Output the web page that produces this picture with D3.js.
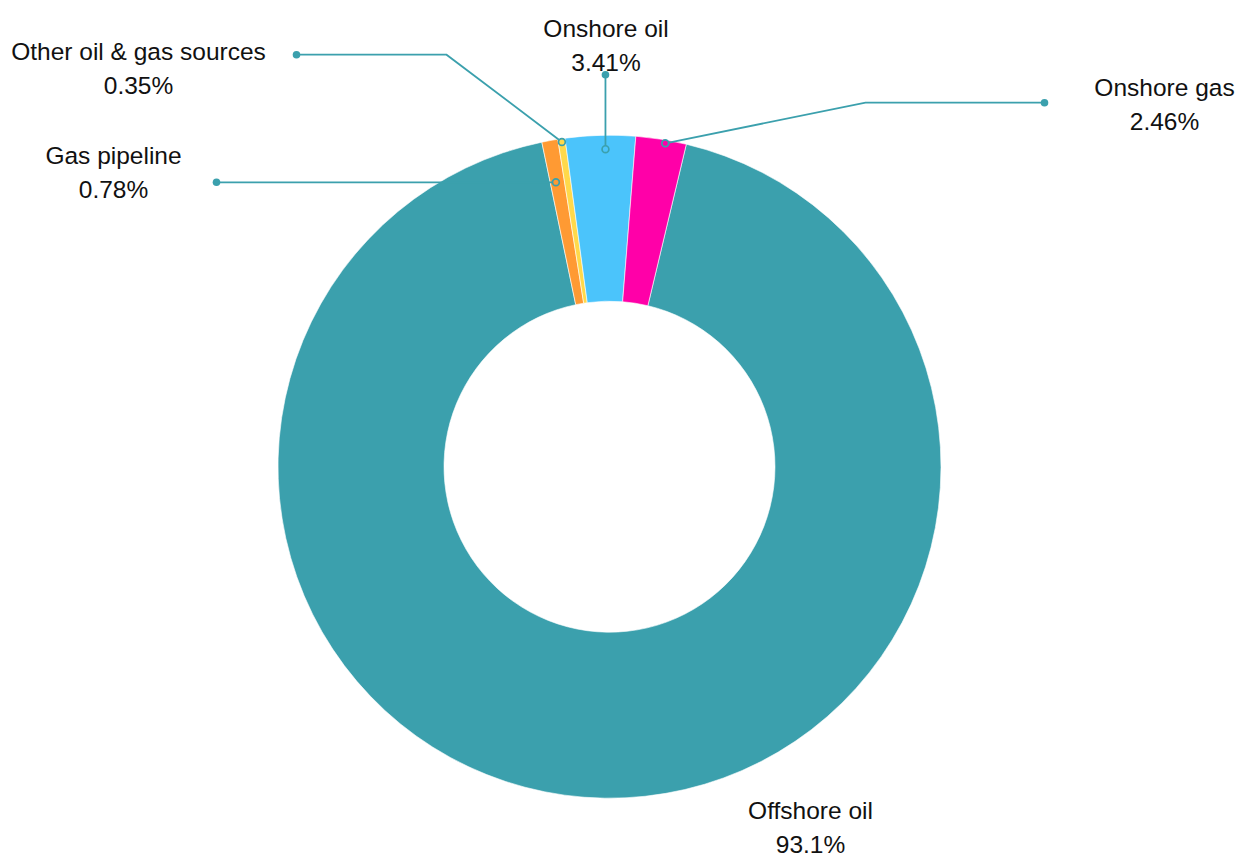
<!DOCTYPE html>
<html>
<head>
<meta charset="utf-8">
<script src="https://cdn.jsdelivr.net/npm/d3@7/dist/d3.min.js"></script>
<style>
  html, body { margin: 0; padding: 0; background: #fff; }
  svg { display: block; }
  text { font-family: "Liberation Sans", Arial, sans-serif; fill: #111; }
</style>
</head>
<body>
<svg id="chart" width="1239" height="858"></svg>
<script>
// Share of emissions by source (percent)
const categories = ["Offshore oil", "Gas pipeline", "Other oil & gas sources", "Onshore oil", "Onshore gas"];
const shares = [93.1, 0.78, 0.35, 3.41, 2.46];
const colors = ["#3ba0ad", "#ff9a33", "#ffd94a", "#4bc4fb", "#ff00a8"];

// Label placement: anchor radius (fraction of outer radius), angle nudge (deg),
// elbow and end offsets from centre, text centre/baseline
const labelLayout = {
  "Offshore oil":            { line: false, tx: 201,  ty: 352 },
  "Gas pipeline":            { line: true, anchorR: 0.873, da: -0.3, elbowX: -170, elbowY: null, endX: -393, tx: -496, ty: -303 },
  "Other oil & gas sources": { line: true, anchorR: 0.99,  da: 0,    elbowX: -163, elbowY: -412, endX: -313, tx: -471, ty: -407 },
  "Onshore oil":             { line: true, anchorR: 0.958, da: 0.85, elbowX: null, elbowY: -392, endX: null, tx: -3.5, ty: -430 },
  "Onshore gas":             { line: true, anchorR: 0.99,  da: 0.8,  elbowX: 256,  elbowY: -364, endX: 435,  tx: 555, ty: -371 }
};

const cx = 609.5, cy = 466.7;
const outerR = 331.5, innerR = 165.5;
const lineColor = "#3ba0ad";
const lineGap = 34;

const svg = d3.select("#chart");
const g = svg.append("g").attr("transform", `translate(${cx},${cy})`);

const startAngle = 13.4 * Math.PI / 180;
const pie = d3.pie().sort(null).value(d => d.value)
  .startAngle(startAngle).endAngle(startAngle + 2 * Math.PI);

const data = categories.map((c, i) => ({ name: c, value: shares[i], color: colors[i] }));
const arcs = pie(data);

const arc = d3.arc().innerRadius(innerR).outerRadius(outerR);

g.selectAll("path.slice")
  .data(arcs)
  .join("path")
  .attr("class", "slice")
  .attr("d", arc)
  .attr("fill", d => d.data.color)
  .attr("stroke", "#fff")
  .attr("stroke-width", 0.6);

// Leader lines and labels
arcs.forEach(a => {
  const L = labelLayout[a.data.name];
  const pctText = a.data.value + "%";
  if (L.line) {
    const mid = (a.startAngle + a.endAngle) / 2 + L.da * Math.PI / 180;
    const r = outerR * L.anchorR;
    const ax = Math.sin(mid) * r, ay = -Math.cos(mid) * r;
    let pts;
    if (L.endX === null) {
      pts = [[ax, ay], [ax, L.elbowY]];
    } else {
      const ey = L.elbowY === null ? ay : L.elbowY;
      pts = [[ax, ay], [L.elbowX, ey], [L.endX, ey]];
    }
    g.append("path")
      .attr("d", d3.line()(pts))
      .attr("fill", "none")
      .attr("stroke", lineColor)
      .attr("stroke-width", 1.8);
    const end = pts[pts.length - 1];
    g.append("circle")
      .attr("cx", end[0]).attr("cy", end[1]).attr("r", 3.8)
      .attr("fill", lineColor);
    g.append("circle")
      .attr("cx", ax).attr("cy", ay).attr("r", 3.4)
      .attr("fill", a.data.color)
      .attr("stroke", lineColor)
      .attr("stroke-width", 1.7);
  }
  const t = g.append("text")
    .attr("text-anchor", "middle")
    .attr("font-size", "24.5px");
  t.append("tspan").attr("x", L.tx).attr("y", L.ty).text(a.data.name);
  t.append("tspan").attr("x", L.tx).attr("y", L.ty + lineGap).text(pctText);
});
</script>
</body>
</html>
